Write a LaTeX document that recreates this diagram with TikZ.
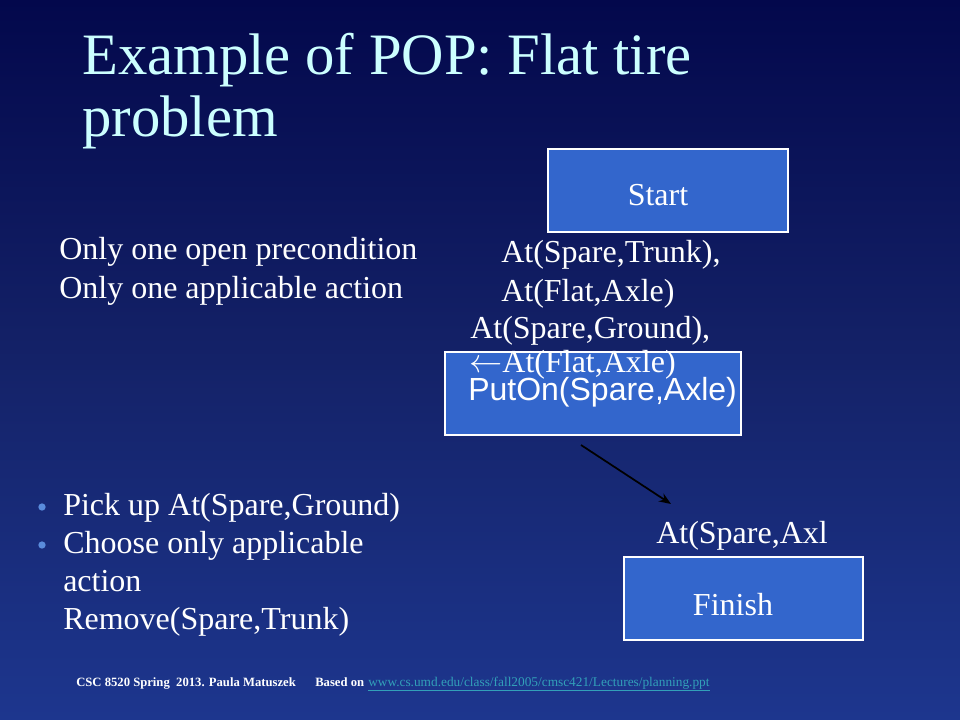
\documentclass[tikz,border=0pt]{standalone}
\usepackage{fontspec}
\setmainfont{Liberation Serif}
\newfontfamily\arialfont{Liberation Sans}
\usetikzlibrary{arrows.meta}
\definecolor{bgtop}{RGB}{3,8,76}
\definecolor{bgmid}{RGB}{20,34,104}
\definecolor{bgbot}{RGB}{29,54,142}
\definecolor{boxblue}{RGB}{51,102,204}
\definecolor{titlecol}{RGB}{204,255,255}
\definecolor{bulletcol}{RGB}{90,140,220}
\definecolor{linkcol}{RGB}{50,160,185}
\tikzset{
  boxstyle/.style={draw=white, line width=0.9pt, fill=boxblue, inner sep=0pt},
  body/.style={text=white, inner sep=0pt, anchor=base west, font=\fontsize{24pt}{28pt}\selectfont},
  titletxt/.style={text=titlecol, inner sep=0pt, anchor=base west, font=\fontsize{44pt}{50pt}\selectfont},
  foot/.style={inner sep=0pt, anchor=base west},
  bulletdot/.style={fill=bulletcol, draw=none, circle, inner sep=0pt, minimum size=5.5pt},
  connector/.style={draw=black, line width=1.3pt, -{Stealth[length=9pt,width=7pt]}}
}
\begin{document}
\begin{tikzpicture}[x=0.75pt, y=-0.75pt]
\useasboundingbox (0,0) rectangle (960,720);
\shade[top color=bgtop, bottom color=bgbot, middle color=bgmid] (0,0) rectangle (960,720);
% title
\node[titletxt] (title1) at (82,75) {Example of POP: Flat tire};
\node[titletxt] (title2) at (82,137) {problem};
% left text
\node[body] (open1) at (59,260) {Only one open precondition};
\node[body] (open2) at (59,298) {Only one applicable action};
% start box
\node[boxstyle, minimum width=180pt, minimum height=62.25pt] (start) at (668,190.5) {};
\node[body, anchor=base] (starttxt) at (658,206) {Start};
\node[body] (pre1) at (501,263) {At(Spare,Trunk),};
\node[body] (pre2) at (501,301) {At(Flat,Axle)};
\node[body] (pre3) at (470,338) {At(Spare,Ground),};
% puton box
\node[boxstyle, minimum width=222pt, minimum height=62.25pt] (puton) at (593,393.5) {};
\node[body] (pre4) at (469,372) {$\leftarrow$At(Flat,Axle)};
\node[body, font=\arialfont\fontsize{24pt}{28pt}\selectfont] (putontxt) at (468,400) {PutOn(Spare,Axle)};
% arrow
\coordinate (arrA) at (581,445);
\coordinate (arrB) at (671,504);
\draw[connector] (arrA) -- (arrB);
% finish
\node[body] (goal) at (656,543) {At(Spare,Axl};
\node[boxstyle, minimum width=179.25pt, minimum height=62.25pt] (finish) at (743.5,598.5) {};
\node[body, anchor=base] (finishtxt) at (733,615) {Finish};
% bullets
\node[bulletdot] (b1) at (42,507) {};
\node[bulletdot] (b2) at (42,545) {};
\node[body] (bt1) at (63,515) {Pick up At(Spare,Ground)};
\node[body] (bt2) at (63,553) {Choose only applicable};
\node[body] (bt3) at (63,591) {action};
\node[body] (bt4) at (63,629) {Remove(Spare,Trunk)};
% footer
\node[foot, text=white, font=\bfseries\fontsize{9.5pt}{11pt}\selectfont] (foot1) at (76,686) {CSC 8520 Spring\ \ 2013. Paula Matuszek};
\node[foot, text=white, font=\bfseries\fontsize{9.5pt}{11pt}\selectfont] (foot2) at (315,686) {Based on};
\node[foot, text=linkcol, font=\fontsize{10pt}{11pt}\selectfont] (foot3) at (368,686) {\underline{www.cs.umd.edu/class/fall2005/cmsc421/Lectures/planning.ppt}};
\end{tikzpicture}
\end{document}
